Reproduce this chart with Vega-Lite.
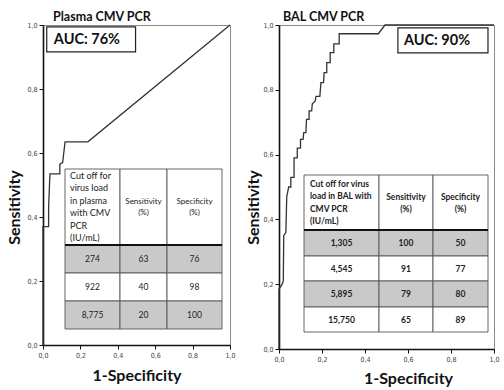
{
  "$schema": "https://vega.github.io/schema/vega-lite/v6.json",
  "background": "white",
  "padding": {"left": 6, "top": 10, "right": 4, "bottom": 0},
  "spacing": 9,
  "config": {
    "view": {"stroke": "#8a8a8a", "strokeWidth": 1},
    "axis": {"grid": false, "domainColor": "#111", "domainWidth": 1.6, "tickColor": "#111", "tickSize": 4, "tickWidth": 1,
      "labelFont": "Liberation Sans Narrow, DejaVu Sans Condensed, sans-serif", "labelFontSize": 7, "labelColor": "#444", "labelPadding": 2, "labelOverlap": false, "labelFlush": false,
      "titleFont": "Lato", "titleFontSize": 16, "titleFontWeight": "bold", "titleColor": "#111"},
    "axisX": {"labelOverlap": false, "labelFlush": false},
    "title": {"font": "Lato", "fontSize": 12.5, "fontWeight": "bold", "color": "#111", "anchor": "start", "frame": "group", "offset": -2}
  },
  "datasets": {
    "plasmaRoc": [
      {"i": 0, "fpr": 0, "tpr": 0}, {"i": 1, "fpr": 0, "tpr": 0.37}, {"i": 2, "fpr": 0.03, "tpr": 0.37},
      {"i": 3, "fpr": 0.03, "tpr": 0.43}, {"i": 4, "fpr": 0.037, "tpr": 0.535}, {"i": 5, "fpr": 0.09, "tpr": 0.535},
      {"i": 6, "fpr": 0.09, "tpr": 0.565}, {"i": 7, "fpr": 0.105, "tpr": 0.57}, {"i": 8, "fpr": 0.118, "tpr": 0.635},
      {"i": 9, "fpr": 0.24, "tpr": 0.635}, {"i": 10, "fpr": 1, "tpr": 1}
    ],
    "balRoc": [
      {"i": 0, "fpr": 0, "tpr": 0}, {"i": 1, "fpr": 0, "tpr": 0.185}, {"i": 2, "fpr": 0.015, "tpr": 0.2},
      {"i": 3, "fpr": 0.02, "tpr": 0.21}, {"i": 4, "fpr": 0.022, "tpr": 0.35}, {"i": 5, "fpr": 0.032, "tpr": 0.36},
      {"i": 6, "fpr": 0.036, "tpr": 0.47}, {"i": 7, "fpr": 0.045, "tpr": 0.5}, {"i": 8, "fpr": 0.055, "tpr": 0.5},
      {"i": 9, "fpr": 0.055, "tpr": 0.53}, {"i": 10, "fpr": 0.07, "tpr": 0.53}, {"i": 11, "fpr": 0.07, "tpr": 0.59},
      {"i": 12, "fpr": 0.085, "tpr": 0.59}, {"i": 13, "fpr": 0.085, "tpr": 0.62}, {"i": 14, "fpr": 0.1, "tpr": 0.62},
      {"i": 15, "fpr": 0.1, "tpr": 0.647}, {"i": 16, "fpr": 0.112, "tpr": 0.647}, {"i": 17, "fpr": 0.115, "tpr": 0.668},
      {"i": 18, "fpr": 0.125, "tpr": 0.668}, {"i": 19, "fpr": 0.128, "tpr": 0.709}, {"i": 20, "fpr": 0.14, "tpr": 0.709},
      {"i": 21, "fpr": 0.14, "tpr": 0.735}, {"i": 22, "fpr": 0.152, "tpr": 0.735}, {"i": 23, "fpr": 0.155, "tpr": 0.757},
      {"i": 24, "fpr": 0.168, "tpr": 0.765}, {"i": 25, "fpr": 0.172, "tpr": 0.78}, {"i": 26, "fpr": 0.19, "tpr": 0.78},
      {"i": 27, "fpr": 0.195, "tpr": 0.822}, {"i": 28, "fpr": 0.207, "tpr": 0.822}, {"i": 29, "fpr": 0.21, "tpr": 0.853},
      {"i": 30, "fpr": 0.222, "tpr": 0.853}, {"i": 31, "fpr": 0.222, "tpr": 0.884}, {"i": 32, "fpr": 0.238, "tpr": 0.884},
      {"i": 33, "fpr": 0.238, "tpr": 0.915}, {"i": 34, "fpr": 0.255, "tpr": 0.915}, {"i": 35, "fpr": 0.255, "tpr": 0.942},
      {"i": 36, "fpr": 0.28, "tpr": 0.942}, {"i": 37, "fpr": 0.28, "tpr": 0.973}, {"i": 38, "fpr": 0.462, "tpr": 0.973},
      {"i": 39, "fpr": 0.493, "tpr": 1}, {"i": 40, "fpr": 1, "tpr": 1}
    ],
    "plasmaTable": [
      {"r0": 0, "r1": 1, "c0": 0, "c1": 1, "text": "Cut off for\nvirus load\nin plasma\nwith CMV\nPCR\n(IU/mL)"},
      {"r0": 0, "r1": 1, "c0": 1, "c1": 2, "text": "Sensitivity\n(%)"},
      {"r0": 0, "r1": 1, "c0": 2, "c1": 3, "text": "Specificity\n(%)"},
      {"r0": 1, "r1": 2, "c0": 0, "c1": 1, "text": "274"},
      {"r0": 1, "r1": 2, "c0": 1, "c1": 2, "text": "63"},
      {"r0": 1, "r1": 2, "c0": 2, "c1": 3, "text": "76"},
      {"r0": 2, "r1": 3, "c0": 0, "c1": 1, "text": "922"},
      {"r0": 2, "r1": 3, "c0": 1, "c1": 2, "text": "40"},
      {"r0": 2, "r1": 3, "c0": 2, "c1": 3, "text": "98"},
      {"r0": 3, "r1": 4, "c0": 0, "c1": 1, "text": "8,775"},
      {"r0": 3, "r1": 4, "c0": 1, "c1": 2, "text": "20"},
      {"r0": 3, "r1": 4, "c0": 2, "c1": 3, "text": "100"}
    ],
    "balTable": [
      {"r0": 0, "r1": 1, "c0": 0, "c1": 1, "text": "Cut off for virus\nload in BAL with\nCMV PCR\n(IU/mL)"},
      {"r0": 0, "r1": 1, "c0": 1, "c1": 2, "text": "Sensitivity\n(%)"},
      {"r0": 0, "r1": 1, "c0": 2, "c1": 3, "text": "Specificity\n(%)"},
      {"r0": 1, "r1": 2, "c0": 0, "c1": 1, "text": "1,305"},
      {"r0": 1, "r1": 2, "c0": 1, "c1": 2, "text": "100"},
      {"r0": 1, "r1": 2, "c0": 2, "c1": 3, "text": "50"},
      {"r0": 2, "r1": 3, "c0": 0, "c1": 1, "text": "4,545"},
      {"r0": 2, "r1": 3, "c0": 1, "c1": 2, "text": "91"},
      {"r0": 2, "r1": 3, "c0": 2, "c1": 3, "text": "77"},
      {"r0": 3, "r1": 4, "c0": 0, "c1": 1, "text": "5,895"},
      {"r0": 3, "r1": 4, "c0": 1, "c1": 2, "text": "79"},
      {"r0": 3, "r1": 4, "c0": 2, "c1": 3, "text": "80"},
      {"r0": 4, "r1": 5, "c0": 0, "c1": 1, "text": "15,750"},
      {"r0": 4, "r1": 5, "c0": 1, "c1": 2, "text": "65"},
      {"r0": 4, "r1": 5, "c0": 2, "c1": 3, "text": "89"}
    ]
  },
  "hconcat": [
    {
      "width": 187,
      "height": 320,
      "title": {"text": "Plasma CMV PCR", "dx": 10},
      "layer": [
        {
          "data": {"name": "plasmaRoc"},
          "mark": {"type": "line", "color": "#333", "strokeWidth": 1.3},
          "encoding": {
            "x": {"field": "fpr", "type": "quantitative", "scale": {"domain": [0, 1], "nice": false},
              "axis": {"values": [0, 0.2, 0.4, 0.6, 0.8, 1], "labelExpr": "replace(format(datum.value, '.1f'), '.', ',')", "labelOverlap": false, "labelFlush": false, "title": "1-Specificity", "titlePadding": 9}},
            "y": {"field": "tpr", "type": "quantitative", "scale": {"domain": [0, 1], "nice": false},
              "axis": {"values": [0, 0.2, 0.4, 0.6, 0.8, 1], "labelExpr": "replace(format(datum.value, '.1f'), '.', ',')", "labelOverlap": false, "title": "Sensitivity", "titlePadding": 4, "titleY": 182}},
            "order": {"field": "i", "type": "quantitative"}
          }
        },
        {
          "data": {"values": [{"label": "AUC: 76%"}]},
          "layer": [
            {
              "mark": {"type": "rect", "fill": "white", "stroke": "#222", "strokeWidth": 1.2},
              "encoding": {
                "x": {"datum": 0.02, "type": "quantitative", "scale": {"domain": [0, 1], "nice": false, "zero": false}, "axis": null}, "x2": {"datum": 0.495},
                "y": {"datum": 0.994, "type": "quantitative", "scale": {"domain": [0, 1], "nice": false, "zero": false}, "axis": null}, "y2": {"datum": 0.916}
              }
            },
            {
              "mark": {"type": "text", "align": "left", "baseline": "middle", "font": "Lato", "fontSize": 14.5, "fontWeight": "bold", "color": "#111"},
              "encoding": {
                "x": {"datum": 0.058, "type": "quantitative"},
                "y": {"datum": 0.953, "type": "quantitative"},
                "text": {"field": "label"}
              }
            }
          ]
        },
        {
          "layer": [
            {
              "data": {"name": "plasmaTable"},
              "mark": {"type": "rect", "stroke": "#555", "strokeWidth": 0.9},
              "encoding": {
                "x": {"field": "c0", "type": "quantitative", "scale": {"domain": [0, 1, 2, 3], "range": [22, 77, 124, 179], "nice": false, "zero": false}, "axis": null},
                "x2": {"field": "c1"},
                "y": {"field": "r0", "type": "quantitative", "scale": {"domain": [0, 1, 2, 3, 4], "range": [144, 220, 248, 276, 304], "nice": false, "zero": false}, "axis": null},
                "y2": {"field": "r1"},
                "fill": {"condition": {"test": "datum.r0 % 2 == 1", "value": "#c9c9c9"}, "value": "white"}
              }
            },
            {
              "data": {"values": [{"line": "header"}]},
              "mark": {"type": "rule", "strokeWidth": 2, "color": "#111"},
              "encoding": {
                "x": {"datum": 0, "type": "quantitative"}, "x2": {"datum": 3},
                "y": {"datum": 1, "type": "quantitative"}
              }
            }
          ]
        },
        {
          "data": {"name": "plasmaTable"},
          "encoding": {
            "x": {"field": "c0", "type": "quantitative", "scale": {"domain": [0, 1, 2], "range": [49.5, 100.5, 151.5], "nice": false, "zero": false}, "axis": null},
            "y": {"field": "r0", "type": "quantitative", "scale": {"domain": [0, 1, 2, 3], "range": [182, 234, 262, 290], "nice": false, "zero": false}, "axis": null},
            "text": {"field": "text"}
          },
          "layer": [
            {
              "transform": [{"filter": "datum.r0 > 0"}],
              "mark": {"type": "text", "font": "Lato", "fontSize": 8.5, "color": "#222", "align": "center", "baseline": "middle"}
            },
            {
              "transform": [{"filter": "datum.r0 == 0 && datum.c0 > 0"}],
              "mark": {"type": "text", "font": "Lato", "fontSize": 8, "lineBreak": "\n", "lineHeight": 11, "color": "#222", "align": "center", "baseline": "middle", "dy": -5.5}
            },
            {
              "transform": [{"filter": "datum.r0 == 0 && datum.c0 == 0"}],
              "mark": {"type": "text", "font": "Lato", "fontSize": 9, "lineBreak": "\n", "lineHeight": 12.5, "color": "#222", "align": "left", "baseline": "middle", "dx": -22.5, "dy": -31.25}
            }
          ]
        }
      ],
      "resolve": {"scale": {"x": "independent", "y": "independent"}}
    },
    {
      "width": 215,
      "height": 324,
      "title": {"text": "BAL CMV PCR", "dx": 4},
      "layer": [
        {
          "data": {"name": "balRoc"},
          "mark": {"type": "line", "color": "#333", "strokeWidth": 1.3},
          "encoding": {
            "x": {"field": "fpr", "type": "quantitative", "scale": {"domain": [0, 1], "nice": false},
              "axis": {"values": [0, 0.2, 0.4, 0.6, 0.8, 1], "labelExpr": "replace(format(datum.value, '.1f'), '.', ',')", "labelOverlap": false, "labelFlush": false, "title": "1-Specificity", "titlePadding": 8, "titleX": 129}},
            "y": {"field": "tpr", "type": "quantitative", "scale": {"domain": [0, 1], "nice": false},
              "axis": {"values": [0, 0.2, 0.4, 0.6, 0.8, 1], "labelExpr": "replace(format(datum.value, '.1f'), '.', ',')", "labelOverlap": false, "title": "Sensitivity", "titlePadding": 1, "titleY": 182}},
            "order": {"field": "i", "type": "quantitative"}
          }
        },
        {
          "data": {"values": [{"label": "AUC: 90%"}]},
          "layer": [
            {
              "mark": {"type": "rect", "fill": "white", "stroke": "#222", "strokeWidth": 1.2},
              "encoding": {
                "x": {"datum": 0.553, "type": "quantitative", "scale": {"domain": [0, 1], "nice": false, "zero": false}, "axis": null}, "x2": {"datum": 0.972},
                "y": {"datum": 0.991, "type": "quantitative", "scale": {"domain": [0, 1], "nice": false, "zero": false}, "axis": null}, "y2": {"datum": 0.914}
              }
            },
            {
              "mark": {"type": "text", "align": "left", "baseline": "middle", "font": "Lato", "fontSize": 14.5, "fontWeight": "bold", "color": "#111"},
              "encoding": {
                "x": {"datum": 0.581, "type": "quantitative"},
                "y": {"datum": 0.952, "type": "quantitative"},
                "text": {"field": "label"}
              }
            }
          ]
        },
        {
          "layer": [
            {
              "data": {"name": "balTable"},
              "mark": {"type": "rect", "stroke": "#555", "strokeWidth": 0.9},
              "encoding": {
                "x": {"field": "c0", "type": "quantitative", "scale": {"domain": [0, 1, 2, 3], "range": [25, 100, 154, 209], "nice": false, "zero": false}, "axis": null},
                "x2": {"field": "c1"},
                "y": {"field": "r0", "type": "quantitative", "scale": {"domain": [0, 1, 2, 3, 4, 5], "range": [150, 205, 231, 256, 282, 307], "nice": false, "zero": false}, "axis": null},
                "y2": {"field": "r1"},
                "fill": {"condition": {"test": "datum.r0 % 2 == 1", "value": "#c9c9c9"}, "value": "white"}
              }
            },
            {
              "data": {"values": [{"line": "header"}]},
              "mark": {"type": "rule", "strokeWidth": 2, "color": "#111"},
              "encoding": {
                "x": {"datum": 0, "type": "quantitative"}, "x2": {"datum": 3},
                "y": {"datum": 1, "type": "quantitative"}
              }
            }
          ]
        },
        {
          "data": {"name": "balTable"},
          "encoding": {
            "x": {"field": "c0", "type": "quantitative", "scale": {"domain": [0, 1, 2], "range": [62.5, 127, 181.5], "nice": false, "zero": false}, "axis": null},
            "y": {"field": "r0", "type": "quantitative", "scale": {"domain": [0, 1, 2, 3, 4], "range": [177.5, 218, 243.5, 269, 294.5], "nice": false, "zero": false}, "axis": null},
            "text": {"field": "text"}
          },
          "layer": [
            {
              "transform": [{"filter": "datum.r0 > 0"}],
              "mark": {"type": "text", "font": "Lato", "fontSize": 8.5, "fontWeight": "bold", "color": "#222", "align": "center", "baseline": "middle"}
            },
            {
              "transform": [{"filter": "datum.r0 == 0 && datum.c0 > 0"}],
              "mark": {"type": "text", "font": "Lato", "fontSize": 8.5, "fontWeight": "bold", "lineBreak": "\n", "lineHeight": 12, "color": "#222", "align": "center", "baseline": "middle", "dy": -6}
            },
            {
              "transform": [{"filter": "datum.r0 == 0 && datum.c0 == 0"}],
              "mark": {"type": "text", "font": "Lato", "fontSize": 8.5, "fontWeight": "bold", "lineBreak": "\n", "lineHeight": 12.5, "color": "#222", "align": "left", "baseline": "middle", "dx": -31.5, "dy": -18.75}
            }
          ]
        }
      ],
      "resolve": {"scale": {"x": "independent", "y": "independent"}}
    }
  ]
}
